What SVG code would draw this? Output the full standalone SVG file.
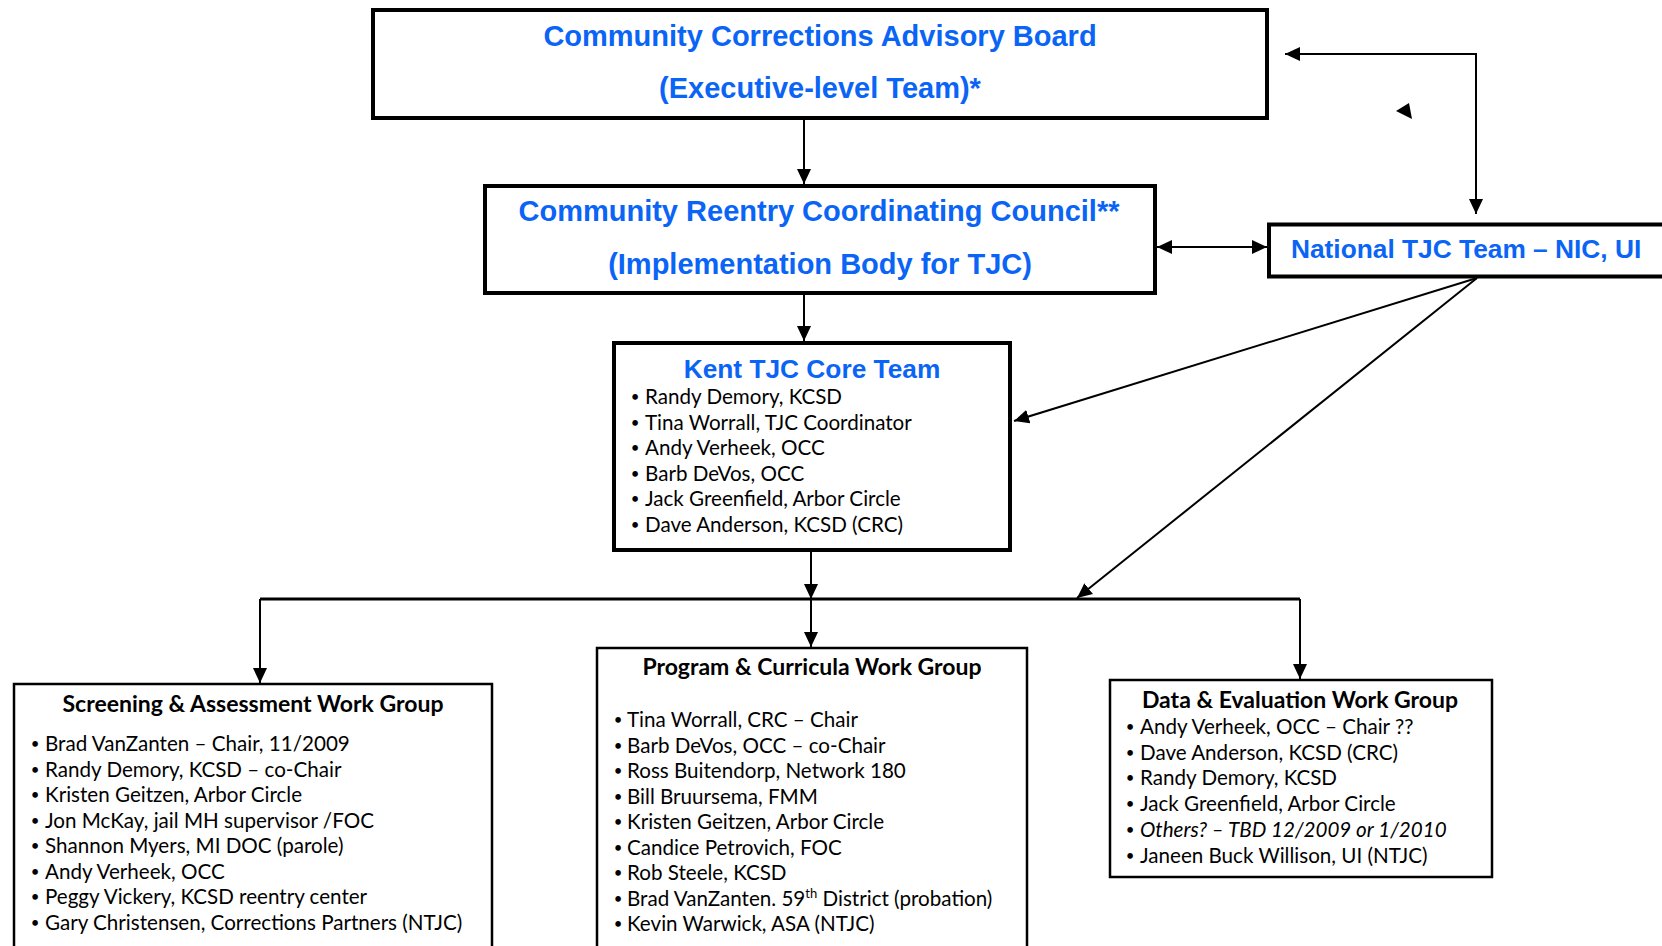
<svg xmlns="http://www.w3.org/2000/svg" width="1662" height="946" viewBox="0 0 1662 946">
<style>
.box{fill:#fff;stroke:#000;stroke-width:4}
.wg{fill:#fff;stroke:#000;stroke-width:2.5}
.big{font-family:"Liberation Sans",Arial,sans-serif;font-weight:bold;fill:#0a64f5;font-size:29px;text-anchor:middle}
.mid{font-family:"Liberation Sans",Arial,sans-serif;font-weight:bold;fill:#0a64f5;font-size:26.3px}
.it{font-family:Lato,"Open Sans",sans-serif;font-size:20.6px;fill:#000}
.bl{font-family:Lato,"Open Sans",sans-serif;font-size:15px;fill:#000;text-anchor:middle}
.wt{font-family:Lato,"Open Sans",sans-serif;font-size:23px;font-weight:bold;fill:#000;text-anchor:middle}
.con{fill:none;stroke:#000;stroke-width:2}
.bus{fill:none;stroke:#000;stroke-width:3.2}
</style>
<defs>
<marker id="ah" viewBox="0 0 15 14" refX="15" refY="7" markerWidth="15" markerHeight="14" markerUnits="userSpaceOnUse" orient="auto-start-reverse">
<path d="M0,0 L15,7 L0,14 z" fill="#000"/>
</marker>
</defs>
<rect width="1662" height="946" fill="#fff"/>

<g id="connectors">
<path class="con" d="M804,120 V184" marker-end="url(#ah)"/>
<path class="con" d="M804,295 V341" marker-end="url(#ah)"/>
<path class="con" d="M1157,247 H1267" marker-start="url(#ah)" marker-end="url(#ah)"/>
<path class="con" d="M1285,54 H1476 V214" marker-start="url(#ah)" marker-end="url(#ah)"/>
<polygon points="1396,111 1409,103 1412,119" fill="#000"/>
<path class="con" d="M1477,278 L1014,421" marker-end="url(#ah)"/>
<path class="con" d="M1477,278 L1077,598" marker-end="url(#ah)"/>
<path class="con" d="M811,552 V599" marker-end="url(#ah)"/>
<path class="bus" d="M260,599 H1300"/>
<path class="con" d="M811,599 V647" marker-end="url(#ah)"/>
<path class="con" d="M260,599 V683" marker-end="url(#ah)"/>
<path class="con" d="M1300,599 V679" marker-end="url(#ah)"/>
</g>

<g id="ccab">
<rect class="box" x="373" y="10" width="894" height="108"/>
<text class="big" x="820" y="46">Community Corrections Advisory Board</text>
<text class="big" x="820" y="98">(Executive-level Team)*</text>
</g>

<g id="crcc">
<rect class="box" x="485" y="186" width="670" height="107"/>
<text class="big" x="819" y="221">Community Reentry Coordinating Council**</text>
<text class="big" x="820" y="274">(Implementation Body for TJC)</text>
</g>

<g id="national">
<rect class="box" x="1269" y="224.5" width="420" height="52"/>
<text class="mid" x="1291" y="258">National TJC Team – NIC, UI</text>
</g>

<g id="kent">
<rect class="box" x="614" y="343" width="396" height="207"/>
<text class="mid" x="812" y="378" text-anchor="middle">Kent TJC Core Team</text>
<g class="bl">
<text x="635" y="402">•</text>
<text x="635" y="427.6">•</text>
<text x="635" y="453.2">•</text>
<text x="635" y="478.8">•</text>
<text x="635" y="504.4">•</text>
<text x="635" y="530">•</text>
</g>
<g class="it">
<text x="645" y="404">Randy Demory, KCSD</text>
<text x="645" y="429.6">Tina Worrall, TJC Coordinator</text>
<text x="645" y="455.2">Andy Verheek, OCC</text>
<text x="645" y="480.8">Barb DeVos, OCC</text>
<text x="645" y="506.4">Jack Greenfield, Arbor Circle</text>
<text x="645" y="532">Dave Anderson, KCSD (CRC)</text>
</g>
</g>

<g id="screening">
<rect class="wg" x="14" y="684" width="478" height="300"/>
<text class="wt" x="253" y="712">Screening &amp; Assessment Work Group</text>
<g class="bl">
<text x="35" y="749">•</text>
<text x="35" y="774.6">•</text>
<text x="35" y="800.1">•</text>
<text x="35" y="825.7">•</text>
<text x="35" y="851.3">•</text>
<text x="35" y="876.9">•</text>
<text x="35" y="902.4">•</text>
<text x="35" y="928">•</text>
</g>
<g class="it">
<text x="45" y="751">Brad VanZanten – Chair, 11/2009</text>
<text x="45" y="776.6">Randy Demory, KCSD – co-Chair</text>
<text x="45" y="802.1">Kristen Geitzen, Arbor Circle</text>
<text x="45" y="827.7">Jon McKay, jail MH supervisor /FOC</text>
<text x="45" y="853.3">Shannon Myers, MI DOC (parole)</text>
<text x="45" y="878.9">Andy Verheek, OCC</text>
<text x="45" y="904.4">Peggy Vickery, KCSD reentry center</text>
<text x="45" y="930">Gary Christensen, Corrections Partners (NTJC)</text>
</g>
</g>

<g id="program">
<rect class="wg" x="597" y="648" width="430" height="320"/>
<text class="wt" x="812" y="675">Program &amp; Curricula Work Group</text>
<g class="bl">
<text x="618" y="725">•</text>
<text x="618" y="750.5">•</text>
<text x="618" y="776">•</text>
<text x="618" y="801.5">•</text>
<text x="618" y="827">•</text>
<text x="618" y="852.5">•</text>
<text x="618" y="878">•</text>
<text x="618" y="903.5">•</text>
<text x="618" y="929">•</text>
</g>
<g class="it">
<text x="627" y="727">Tina Worrall, CRC – Chair</text>
<text x="627" y="752.5">Barb DeVos, OCC – co-Chair</text>
<text x="627" y="778">Ross Buitendorp, Network 180</text>
<text x="627" y="803.5">Bill Bruursema, FMM</text>
<text x="627" y="829">Kristen Geitzen, Arbor Circle</text>
<text x="627" y="854.5">Candice Petrovich, FOC</text>
<text x="627" y="880">Rob Steele, KCSD</text>
<text x="627" y="905.5">Brad VanZanten. 59<tspan font-size="13" dy="-8">th</tspan><tspan dy="8"> District (probation)</tspan></text>
<text x="627" y="931">Kevin Warwick, ASA (NTJC)</text>
</g>
</g>

<g id="data">
<rect class="wg" x="1110" y="680" width="382" height="197"/>
<text class="wt" x="1300" y="708">Data &amp; Evaluation Work Group</text>
<g class="bl">
<text x="1130" y="732">•</text>
<text x="1130" y="757.7">•</text>
<text x="1130" y="783.4">•</text>
<text x="1130" y="809.1">•</text>
<text x="1130" y="834.8">•</text>
<text x="1130" y="860.5">•</text>
</g>
<g class="it">
<text x="1140" y="734">Andy Verheek, OCC – Chair ??</text>
<text x="1140" y="759.7">Dave Anderson, KCSD (CRC)</text>
<text x="1140" y="785.4">Randy Demory, KCSD</text>
<text x="1140" y="811.1">Jack Greenfield, Arbor Circle</text>
<text x="1140" y="836.8" font-style="italic">Others? – TBD 12/2009 or 1/2010</text>
<text x="1140" y="862.5">Janeen Buck Willison, UI (NTJC)</text>
</g>
</g>
</svg>
